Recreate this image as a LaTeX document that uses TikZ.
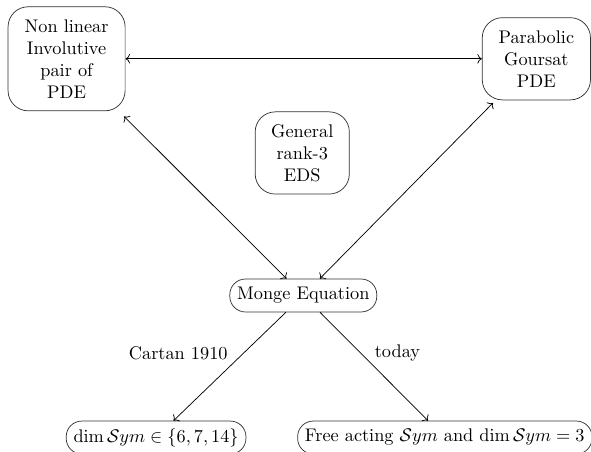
\documentclass[tikz,border=0pt]{standalone}
\usepackage{amsmath}
\usepackage{amssymb}
\usepackage{tikz}
\usetikzlibrary{positioning, arrows, arrows.meta}
\tikzset{
	roundnode/.style={
			shape=rectangle,
			draw=black!80,
			rounded corners=11pt,
			align=center,
			inner sep=0pt
		},
	pillnode/.style={
			shape=rectangle,
			draw=black!80,
			rounded corners=8.5pt,
			minimum height=18pt,
			inner xsep=4pt,
			inner ysep=4pt
		},
	edgelabel/.style={
			draw=none,
			text=black
		}
}

\begin{document}
\begin{tikzpicture}
  \useasboundingbox (0,0) rectangle (11.36,-8.673);

  \node[roundnode, minimum width=2.25cm, minimum height=2.0cm] (m1) at (1.28,-1.13) {Non linear\\Involutive\\pair of\\PDE};
  \node[roundnode, minimum width=2.08cm, minimum height=1.58cm] (m2) at (10.31,-1.13) {Parabolic\\Goursat\\PDE};
  \node[roundnode, minimum width=1.81cm, minimum height=1.58cm] (m3) at (5.81,-2.94) {General\\rank-3\\EDS};
  \node[pillnode] (m4) at (5.83,-5.68) {Monge Equation};
  \node[pillnode] (m5) at (3.0,-8.41) {$\dim\mathcal{S}ym\in\{6,7,14\}$};
  \node[pillnode] (m6) at (8.55,-8.41) {Free acting $\mathcal{S}ym$ and $\dim\mathcal{S}ym=3$};

  \draw[<->] (m1) -- (m2);
  \draw[<->, shorten <=4pt] (m1) -- (m4);
  \draw[<->, shorten <=2pt] (m2) -- (m4);
  \draw[->] (m4) -- (m5) node[edgelabel, pos=0.38, left=5pt] (l1) {Cartan 1910};
  \draw[->] (m4) -- (m6) node[edgelabel, pos=0.38, right=4pt] (l2) {today};

\end{tikzpicture}
\end{document}
